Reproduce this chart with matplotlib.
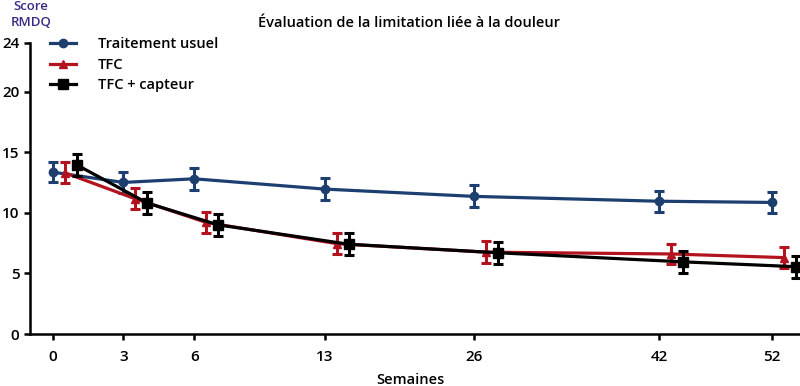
import matplotlib
matplotlib.use("Agg")
import matplotlib.pyplot as plt

# Weeks (categorical axis, uneven spacing as in the original)
weeks = ["0", "3", "6", "13", "26", "42", "52"]

usuel = [13.35, 12.5, 12.8, 11.95, 11.35, 10.95, 10.85]
usuel_err = [0.85, 0.87, 0.9, 0.9, 0.9, 0.88, 0.9]

tfc = [13.3, 11.15, 9.2, 7.45, 6.75, 6.6, 6.3]
tfc_err = [0.85, 0.88, 0.88, 0.88, 0.88, 0.86, 0.85]

tfc_capteur = [13.95, 10.8, 9.0, 7.4, 6.7, 5.95, 5.55]
tfc_capteur_err = [0.92, 0.92, 0.9, 0.92, 0.92, 0.9, 0.9]

# layout: horizontal position of each week and per-series shift
week_pos = [52.7, 123.3, 194.3, 325, 474, 659.3, 772.3]
shifts = [0, 12, 24]

BLUE = "#1c3f70"
RED = "#b3121f"
BLACK = "#000000"
PURPLE = "#3b2a85"

plt.rcParams["font.family"] = ["Open Sans", "DejaVu Sans"]

fig = plt.figure(figsize=(8, 3.86), dpi=100)
ax = fig.add_axes([30 / 800, 1 - 334 / 386, 770 / 800, 291 / 386])

series = [
    ("Traitement usuel", usuel, usuel_err, BLUE, "o", 6.0),
    ("TFC", tfc, tfc_err, RED, "^", 6.0),
    ("TFC + capteur", tfc_capteur, tfc_capteur_err, BLACK, "s", 6.5),
]

for i, (name, vals, errs, col, mk, ms) in enumerate(series):
    xs = [p + shifts[i] for p in week_pos]
    ax.errorbar(xs, vals, yerr=errs, fmt="none", ecolor=col, elinewidth=2.2,
                capsize=3.5, capthick=2.2, zorder=3 + i)
    ax.plot(xs, vals, color=col, marker=mk, markersize=ms, linewidth=2.3,
            label=name, zorder=3 + i)

ax.set_xlim(30, 800)
ax.set_ylim(0, 24)
ax.set_yticks([0, 5, 10, 15, 20, 24])
ax.set_xticks(week_pos)
ax.set_xticklabels(weeks)

for s in ["top", "right"]:
    ax.spines[s].set_visible(False)
for s in ["left", "bottom"]:
    ax.spines[s].set_linewidth(1.8)
    ax.spines[s].set_color("black")
ax.tick_params(axis="both", direction="out", length=4.5, width=1.8,
               labelsize=11, colors="black")
ax.tick_params(axis="y", pad=3)
ax.tick_params(axis="x", pad=7)
for lab in ax.get_xticklabels() + ax.get_yticklabels():
    lab.set_fontweight("semibold")

leg = ax.legend(loc="upper left", bbox_to_anchor=(37 / 800, 1 - 24 / 386),
                bbox_transform=fig.transFigure, frameon=False,
                handlelength=1.75, handletextpad=1.55, labelspacing=0.45,
                prop={"size": 10.5, "weight": "semibold"})

fig.text(409 / 800, 1 - 23 / 386, "Évaluation de la limitation liée à la douleur",
         ha="center", va="center", fontsize=10.5, fontweight="semibold")
fig.text(31 / 800, 1 - 14 / 386, "Score\nRMDQ", ha="center", va="center",
         fontsize=9.5, color=PURPLE, fontweight="semibold", linespacing=1.3)
fig.text(410 / 800, 1 - 380 / 386, "Semaines", ha="center", va="center",
         fontsize=10.5, fontweight="semibold")

fig.savefig("out.png", dpi=100)
